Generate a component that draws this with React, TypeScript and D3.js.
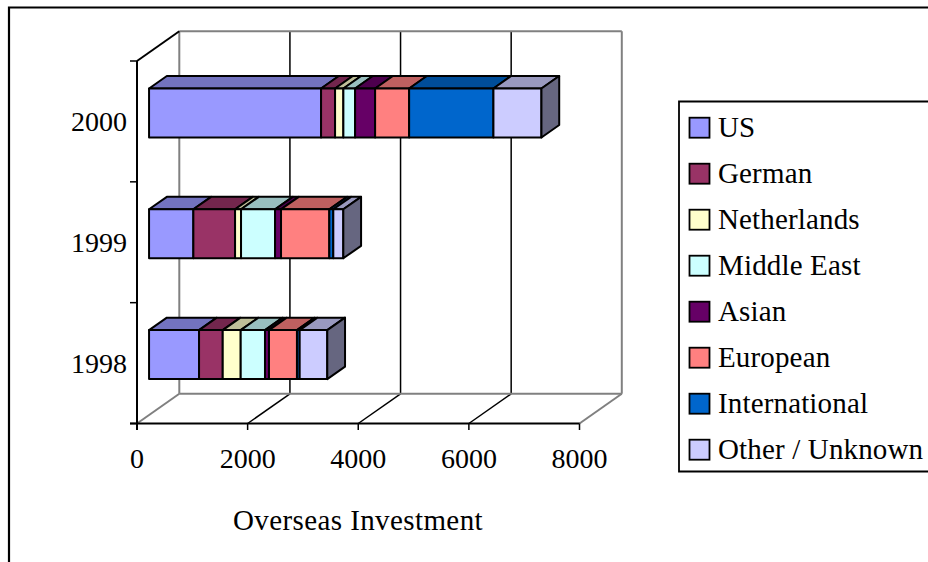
import React from "react";
import * as d3 from "d3";

// Categories run bottom to top on the vertical axis.
const years = ["1998", "1999", "2000"];
const seriesNames = ["US", "German", "Netherlands", "Middle East", "Asian", "European", "International", "Other / Unknown"];
const us = [904, 801, 3110];
const german = [428, 754, 253];
const netherlands = [325, 108, 150];
const middleEast = [439, 615, 212];
const asian = [72, 108, 362];
const european = [506, 873, 615];
const international = [49, 72, 1524];
const other = [499, 181, 868];
const seriesValues = [us, german, netherlands, middleEast, asian, european, international, other];
const seriesColors = ["#9999FF", "#993366", "#FFFFCC", "#CCFFFF", "#660066", "#FF8080", "#0066CC", "#CCCCFF"];
const xTicks = [0, 2000, 4000, 6000, 8000];

const FONT = "'Liberation Serif', serif";
const WALL_DX = 42.3;
const WALL_DY = -29.7;
const BAR_NEAR = 0.285;
const BAR_FAR = 0.705;
const BAR_THICKNESS = 49;

const x = d3.scaleLinear().domain([0, 8000]).range([137, 579.5]);
const y = d3.scaleBand<string>().domain([...years].reverse()).range([61, 423.5]);

const rows = years.map((year, i) => {
  const row: Record<string, number | string> = { year };
  seriesNames.forEach((name, s) => {
    row[name] = seriesValues[s][i];
  });
  return row;
});
const stacked = d3.stack<any>().keys(seriesNames)(rows);

const shade = (color: string, k: number) => {
  const c = d3.rgb(color);
  return d3.rgb(c.r * k, c.g * k, c.b * k).formatHex();
};

const poly = (pts: [number, number][]) => {
  const line = d3.line();
  return line(pts) + "Z";
};

const lineProps = { stroke: "#000", strokeWidth: 1.5, fill: "none" };
const wallProps = { stroke: "#808080", strokeWidth: 2, fill: "none" };

export default function App() {
  const baseX = x(0);
  const floorY = y.range()[1];
  const topY = y.range()[0];
  const backY = floorY + WALL_DY;
  const backTop = topY + WALL_DY;

  const nearDx = WALL_DX * BAR_NEAR;
  const nearDy = WALL_DY * BAR_NEAR;
  const barDx = WALL_DX * (BAR_FAR - BAR_NEAR);
  const barDy = WALL_DY * (BAR_FAR - BAR_NEAR);

  return (
    <svg
      width={928}
      height={562}
      style={{ position: "absolute", left: 0, top: 0, background: "#fff", fontFamily: FONT }}
    >
      {/* outer chart frame, open past the right and bottom edges */}
      <path d="M9 562V7.5H928" stroke="#000" strokeWidth={2.2} fill="none" />

      {/* back wall and floor */}
      {xTicks.map((t, i) => {
        const edge = i === 0 || i === xTicks.length - 1;
        const props = edge ? wallProps : lineProps;
        return (
          <g key={t}>
            <line x1={x(t) + WALL_DX} x2={x(t) + WALL_DX} y1={backTop} y2={backY} {...props} />
            <line x1={x(t)} x2={x(t) + WALL_DX} y1={floorY} y2={backY} {...props} />
          </g>
        );
      })}
      <line x1={baseX + WALL_DX} x2={x(8000) + WALL_DX} y1={backTop} y2={backTop} {...wallProps} />
      <line x1={baseX + WALL_DX} x2={x(8000) + WALL_DX} y1={backY} y2={backY} {...wallProps} />
      <line x1={baseX} x2={baseX + WALL_DX} y1={topY} y2={backTop} stroke="#000" strokeWidth={2} />

      {/* axes */}
      <line x1={baseX} x2={baseX} y1={topY} y2={floorY + 6.5} stroke="#000" strokeWidth={2} />
      <line x1={baseX - 7} x2={x(8000)} y1={floorY} y2={floorY} stroke="#000" strokeWidth={2} />
      {[...y.domain(), ""].map((d, i) => {
        const ty = topY + i * y.step();
        return <line key={i} x1={baseX - 7} x2={baseX} y1={ty} y2={ty} stroke="#000" strokeWidth={1.5} />;
      })}
      {xTicks.map((t) => (
        <g key={t}>
          <line x1={x(t)} x2={x(t)} y1={floorY} y2={floorY + 6.5} stroke="#000" strokeWidth={1.5} />
          <text x={x(t)} y={468} textAnchor="middle" fontSize={28} fill="#000">
            {t}
          </text>
        </g>
      ))}
      {years.map((year) => (
        <text key={year} x={127} y={y(year)! + y.bandwidth() / 2 + 10} textAnchor="end" fontSize={28} fill="#000">
          {year}
        </text>
      ))}
      <text x={358} y={529.5} textAnchor="middle" fontSize={29} letterSpacing={0.4} fill="#000">
        Overseas Investment
      </text>

      {/* stacked 3D bars */}
      {years.map((year, i) => {
        const top = y(year)! + y.bandwidth() / 2 - BAR_THICKNESS / 2 + nearDy;
        const bottom = top + BAR_THICKNESS;
        return (
          <g key={year} strokeLinejoin="round">
            {stacked.map((layer, s) => {
              const [v0, v1] = layer[i];
              const x0 = x(v0) + nearDx;
              const x1 = x(v1) + nearDx;
              const color = seriesColors[s];
              return (
                <g key={layer.key} stroke="#000" strokeWidth={2}>
                  <path
                    d={poly([[x0, top], [x0 + barDx, top + barDy], [x1 + barDx, top + barDy], [x1, top]])}
                    fill={shade(color, 0.75)}
                  />
                  <rect x={x0} y={top} width={x1 - x0} height={bottom - top} fill={color} />
                  {s === stacked.length - 1 && (
                    <path
                      d={poly([[x1, top], [x1 + barDx, top + barDy], [x1 + barDx, bottom + barDy], [x1, bottom]])}
                      fill={shade(color, 0.5)}
                    />
                  )}
                </g>
              );
            })}
          </g>
        );
      })}

      {/* legend, its right side runs past the edge of the canvas */}
      <path d="M932 101.5H679V471.5H932" stroke="#000" strokeWidth={1.8} fill="none" />
      {seriesNames.map((name, s) => {
        const cy = 127.7 + s * 46;
        return (
          <g key={name}>
            <rect x={689.5} y={cy - 10} width={20} height={20} fill={seriesColors[s]} stroke="#000" strokeWidth={1.8} />
            <text x={718} y={cy + 9} fontSize={29} letterSpacing={0.15} fill="#000">
              {name}
            </text>
          </g>
        );
      })}
    </svg>
  );
}
